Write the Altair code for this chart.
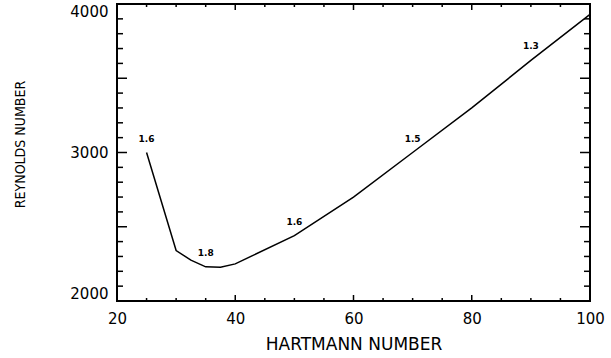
import altair as alt
import pandas as pd

# Neutral-stability curve: critical Reynolds number vs Hartmann number
hartmann = [25, 30, 32.5, 35, 37.5, 40, 50, 60, 70, 80, 90, 100]
reynolds = [3000, 2340, 2275, 2230, 2228, 2250, 2440, 2700, 3000, 3300, 3620, 3930]
# wavenumber annotations along the curve
wavenumber = ["1.6", "", "", "1.8", "", "", "1.6", "", "1.5", "", "1.3", ""]

x_label_values = [20, 40, 60, 80, 100]
y_label_values = [2000, 3000, 4000]
x_major_ticks = [40, 60, 80]
x_minor_ticks = [25, 30, 35, 45, 50, 55, 65, 70, 75, 85, 90, 95]
y_major_ticks = [2500, 3000, 3500]
y_minor_ticks = [2100, 2200, 2300, 2400, 2600, 2700, 2800, 2900,
                 3100, 3200, 3300, 3400, 3600, 3700, 3800, 3900]

W, H = 473, 297
FONT = "DejaVu Sans"


def xs():
    return alt.Scale(domain=[20, 100], nice=False, zero=False)


def ys():
    return alt.Scale(domain=[2000, 4000], nice=False, zero=False)


def x_axis():
    return alt.Axis(
        values=x_label_values, ticks=False, domain=False, grid=False,
        format="d", labelFlush=False,
        labelFont=FONT, labelFontSize=15, labelColor="black", labelPadding=10,
        title="HARTMANN NUMBER", titleFont=FONT, titleFontSize=17,
        titleFontWeight="normal", titleColor="black",
        titleY=43, titleBaseline="middle",
    )


def y_axis():
    return alt.Axis(
        values=y_label_values, ticks=False, domain=False, grid=False,
        format="d", labelFlush=True,
        labelFont=FONT, labelFontSize=15, labelColor="black", labelPadding=9,
        title="REYNOLDS NUMBER",
        titleFont="DejaVu Sans Condensed, Liberation Sans Narrow, DejaVu Sans",
        titleFontSize=14, titleFontWeight="normal", titleColor="black",
        titleX=-97, titleY=140, titleAlign="center", titleBaseline="middle",
        titleAngle=270,
    )


def X(field):
    return alt.X(field, type="quantitative", scale=xs(), axis=x_axis())


def Y(field):
    return alt.Y(field, type="quantitative", scale=ys(), axis=y_axis())


curve = pd.DataFrame({"hartmann": hartmann, "reynolds": reynolds, "k": wavenumber})

line = alt.Chart(curve).mark_line(color="black", strokeWidth=1.5).encode(
    x=X("hartmann"), y=Y("reynolds"),
)

labels = alt.Chart(curve).transform_filter("datum.k != ''").mark_text(
    font=FONT, fontSize=9, fontWeight="bold", color="black",
    baseline="middle", align="center", dy=-14,
).encode(x=X("hartmann"), y=Y("reynolds"), text="k:N")


def xticks(values, length):
    d = pd.DataFrame({"t": values})
    bottom = alt.Chart(d).mark_rule(color="black", strokeWidth=1.5).encode(
        x=X("t"), y=alt.value(H), y2=alt.value(H - length),
    )
    top = alt.Chart(d).mark_rule(color="black", strokeWidth=1.5).encode(
        x=X("t"), y=alt.value(0), y2=alt.value(length),
    )
    return [bottom, top]


def yticks(values, length):
    d = pd.DataFrame({"t": values})
    left = alt.Chart(d).mark_rule(color="black", strokeWidth=1.5).encode(
        y=Y("t"), x=alt.value(0), x2=alt.value(length),
    )
    right = alt.Chart(d).mark_rule(color="black", strokeWidth=1.5).encode(
        y=Y("t"), x=alt.value(W), x2=alt.value(W - length),
    )
    return [left, right]


layers = [line, labels]
layers += xticks(x_major_ticks, 6) + xticks(x_minor_ticks, 3)
layers += yticks(y_major_ticks, 10) + yticks(y_minor_ticks, 6)

chart = alt.layer(*layers).properties(
    width=W, height=H,
    autosize=alt.AutoSizeParams(type="none"),
    padding={"left": 117, "top": 4, "right": 21, "bottom": 57},
    background="white",
).configure_view(stroke="black", strokeWidth=2)

chart.save("out.html", embed_options={"renderer": "svg", "actions": False})
